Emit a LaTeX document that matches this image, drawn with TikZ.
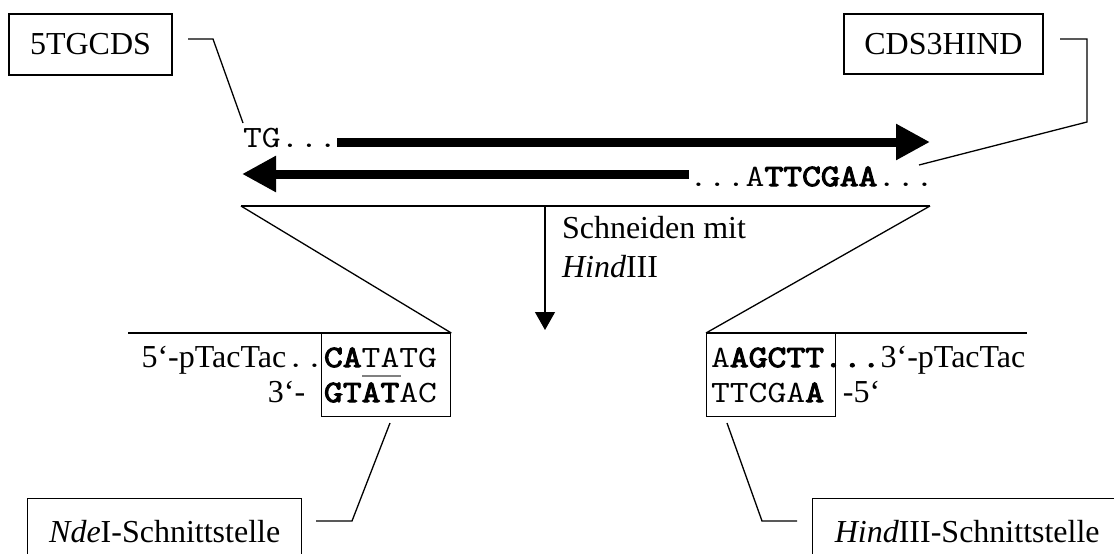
\documentclass[tikz,border=0pt]{standalone}
\usepackage{fontspec}
\setmainfont{Liberation Serif}
\setmonofont[Scale=0.969, FakeStretch=1.18,
  BoldFont={Latin Modern Mono}, BoldFeatures={FakeBold=3.5}]{Latin Modern Mono}
\usetikzlibrary{arrows.meta}
\newcommand\diagfont{\fontsize{32}{39}\selectfont}

\begin{document}
\begin{tikzpicture}[x=1pt,y=-1pt,
  font=\diagfont,
  thinline/.style={line width=1.3pt},
  labelbox/.style={draw, line width=1.4pt, inner sep=0pt},
  txt/.style={inner sep=0pt, outer sep=0pt},
  strand/.style={line width=9pt, -{Triangle[length=34pt,width=34pt]}},
  cutarrow/.style={line width=1.3pt, -{Triangle[length=18pt,width=20pt]}},
]
\useasboundingbox (0,0) rectangle (1114,554);
\clip (0,0) rectangle (1114,554);
\fill[white] (0,0) rectangle (1114,554);

% primer labels
\node[labelbox, minimum width=163pt, minimum height=61pt] (p5) at (90.5,44.5) {5TGCDS};
\node[labelbox, minimum width=199pt, minimum height=60pt] (p3) at (943.5,44) {CDS3HIND};

% PCR product, both strands
\node[txt, anchor=base west] (tg) at (243,147) {\ttfamily TG...};
\node[txt, anchor=base west] (rev) at (689,186) {\ttfamily ...A\textbf{TTCGAA}...};
\coordinate (tipfwd) at (930,142);
\coordinate (tiprev) at (242,174);
\draw[strand] (tg.east |- tipfwd) -- (tipfwd);
\draw[strand] (rev.west |- tiprev) -- (tiprev);

% leader lines of the primer labels
\coordinate (l5a) at (188,39);
\coordinate (l5b) at (213,39);
\coordinate (l5c) at (243,123);
\draw[thinline] (l5a) -- (l5b) -- (l5c);
\coordinate (l3a) at (1060,39);
\coordinate (l3b) at (1087,39);
\coordinate (l3c) at (1087,122);
\coordinate (l3d) at (919,165);
\draw[thinline] (l3a) -- (l3b) -- (l3c) -- (l3d);

% cut ends, detail boxes
\node[draw, thinline, inner sep=0pt, minimum width=129pt, minimum height=83pt, anchor=north west] (ndebox) at (321,333) {};
\node[draw, thinline, inner sep=0pt, minimum width=129pt, minimum height=83pt, anchor=north west] (hindbox) at (706,333) {};

% zoom lines
\coordinate (zl) at (241,206);
\coordinate (zr) at (930,206);
\draw[thinline] (zl) -- (zr);
\draw[thinline] (zl) -- (ndebox.north east);
\draw[thinline] (zr) -- (hindbox.north west);
\coordinate (ll) at (128,333);
\coordinate (rl) at (1027,333);
\draw[thinline] (ll) -- (ndebox.north east);
\draw[thinline] (hindbox.north west) -- (rl);

% digestion step
\coordinate (cuttop) at (545,206);
\coordinate (cuttip) at (545,330);
\draw[cutarrow] (cuttop) -- (cuttip);
\node[txt, anchor=base west] (cut1) at (562,238) {Schneiden mit};
\node[txt, anchor=base west] (cut2) at (562,277) {\textit{Hind}III};

% NdeI end
\node[txt, anchor=base west] (ndetop) at (324,367) {\ttfamily\textbf{CA}TATG};
\node[txt, anchor=base west] (ndebot) at (324,402) {\ttfamily\textbf{GTAT}AC};
\node[txt, anchor=base east] (ndel1) at (ndetop.base west) {5‘-pTacTac\texttt{..}};
\node[txt, anchor=base east] (ndel2) at (ndebot.base west) {3‘-\texttt{\phantom{x}}};
\draw[line width=1.3pt, gray] (362.4,376) -- (400.8,376);

% HindIII end
\node[txt, anchor=base west] (hindtop) at (711,367) {\ttfamily A\textbf{AGCTT...}};
\node[txt, anchor=base west] (hindbot) at (711,402) {\ttfamily TTCGA\textbf{A}\phantom{x}};
\node[txt, anchor=base west] (hindr1) at (hindtop.base east) {3‘-pTacTac};
\node[txt, anchor=base west] (hindr2) at (hindbot.base east) {-5‘};

% restriction site labels
\node[labelbox, minimum width=274pt, minimum height=66pt, anchor=north west] (ndelbl) at (27,498) {\textit{Nde}I-Schnittstelle};
\node[labelbox, minimum width=309pt, minimum height=66pt, anchor=north west] (hindlbl) at (812,498) {\textit{Hind}III-Schnittstelle};
\coordinate (n1) at (390,423);
\coordinate (n2) at (352,521);
\coordinate (n3) at (316,521);
\draw[thinline] (n1) -- (n2) -- (n3);
\coordinate (h1) at (727,423);
\coordinate (h2) at (762,521);
\coordinate (h3) at (797,521);
\draw[thinline] (h1) -- (h2) -- (h3);
\end{tikzpicture}
\end{document}
